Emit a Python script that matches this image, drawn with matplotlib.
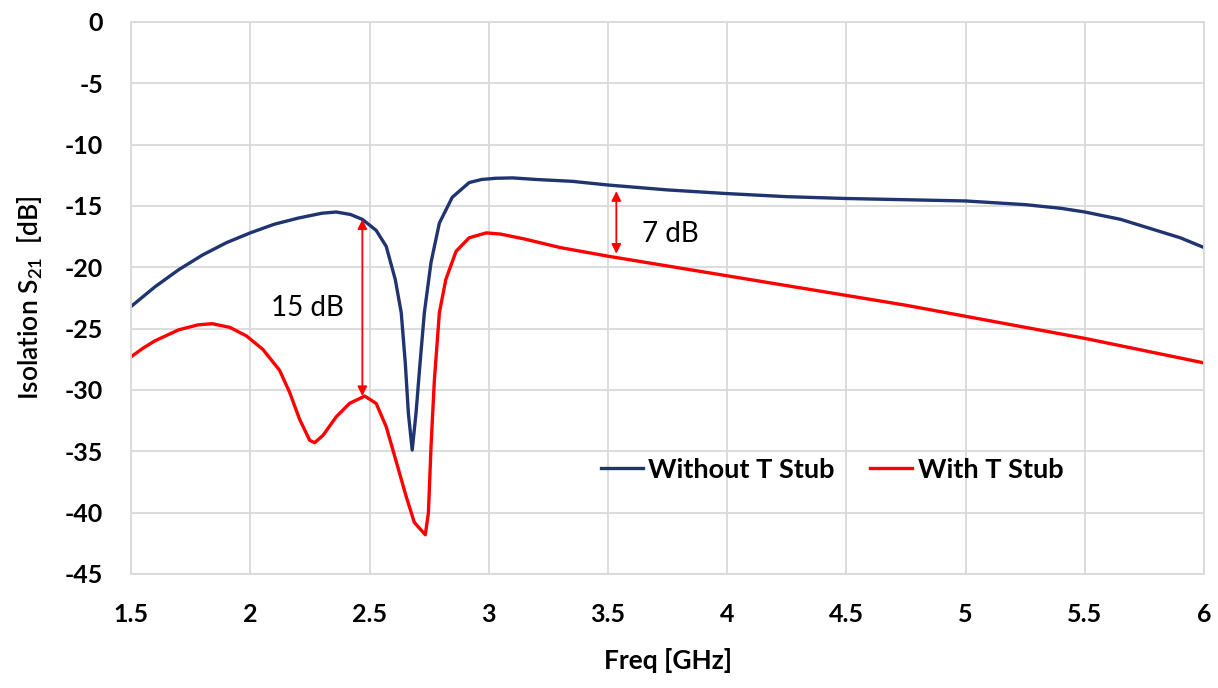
import numpy as np
import matplotlib
matplotlib.use('Agg')
import matplotlib.pyplot as plt

plt.rcParams['font.family'] = ['Lato', 'DejaVu Sans']
plt.rcParams['axes.unicode_minus'] = False

# Without T Stub
freq_wo = [1.5, 1.6, 1.7, 1.8, 1.9, 2.0, 2.1, 2.2, 2.3, 2.36, 2.42, 2.47, 2.528, 2.57,
           2.608, 2.633, 2.65, 2.663, 2.679, 2.695, 2.712, 2.73, 2.758, 2.793, 2.847,
           2.918, 2.97, 3.03, 3.1, 3.2, 3.35, 3.5, 3.75, 4.0, 4.25, 4.5, 4.75, 5.0,
           5.25, 5.4, 5.5, 5.65, 5.8, 5.9, 6.0]
s21_wo = [-23.2, -21.6, -20.2, -19.0, -18.0, -17.2, -16.5, -16.0, -15.6, -15.5, -15.7,
          -16.1, -17.0, -18.3, -21.0, -23.7, -27.8, -31.9, -34.9, -31.9, -27.8, -23.7,
          -19.6, -16.4, -14.3, -13.1, -12.85, -12.75, -12.72, -12.85, -13.0, -13.3,
          -13.7, -14.0, -14.25, -14.4, -14.5, -14.6, -14.9, -15.2, -15.5, -16.1,
          -17.0, -17.6, -18.4]

# With T Stub
freq_w = [1.5, 1.55, 1.6, 1.7, 1.78, 1.84, 1.914, 1.984, 2.053, 2.123, 2.165, 2.207,
          2.249, 2.27, 2.305, 2.36, 2.416, 2.48, 2.528, 2.57, 2.61, 2.654, 2.688,
          2.734, 2.747, 2.758, 2.772, 2.793, 2.82, 2.863, 2.918, 2.99, 3.05, 3.15,
          3.3, 3.5, 3.75, 4.0, 4.25, 4.5, 4.75, 5.0, 5.25, 5.5, 5.75, 6.0]
s21_w = [-27.3, -26.6, -26.0, -25.1, -24.7, -24.6, -24.9, -25.6, -26.7, -28.4, -30.2,
         -32.4, -34.1, -34.3, -33.7, -32.2, -31.1, -30.5, -31.1, -33.0, -35.7, -38.7,
         -40.8, -41.8, -40.0, -34.6, -29.2, -23.7, -21.0, -18.7, -17.6, -17.2, -17.3,
         -17.7, -18.4, -19.1, -19.9, -20.7, -21.5, -22.3, -23.1, -24.0, -24.9, -25.8,
         -26.8, -27.8]

x_ticks = [1.5, 2, 2.5, 3, 3.5, 4, 4.5, 5, 5.5, 6]
x_labels = ['1.5', '2', '2.5', '3', '3.5', '4', '4.5', '5', '5.5', '6']
y_ticks = list(range(0, -50, -5))

fig = plt.figure(figsize=(12.18, 6.88), dpi=100)
ax = fig.add_axes([0.1076, 0.1657, 0.881, 0.8026])

ax.plot(freq_wo, s21_wo, color='#1f3470', lw=2.4, label='Without T Stub')
ax.plot(freq_w, s21_w, color='#ff0000', lw=2.4, label='With T Stub')

ax.set_xlim(1.5, 6)
ax.set_ylim(-45, 0)
ax.set_xticks(x_ticks)
ax.set_xticklabels(x_labels, fontsize=18, fontweight='bold')
ax.set_yticks(y_ticks)
ax.set_yticklabels([str(v) for v in y_ticks], fontsize=18, fontweight='bold')
ax.grid(True, color='#d9d9d9', lw=1.3)
ax.set_axisbelow(True)
for sp in ax.spines.values():
    sp.set_color('#d9d9d9')
    sp.set_linewidth(1.3)
ax.tick_params(axis='x', length=0, pad=21)
ax.tick_params(axis='y', length=0, pad=20)

ax.set_xlabel('Freq [GHz]', fontsize=19, fontweight='bold', labelpad=16)
ax.set_ylabel(r'Isolation S$\mathregular{_{21}}$  [dB]', fontsize=19, fontweight='semibold', labelpad=14)

# difference arrows
arrow = dict(arrowstyle='<|-|>', color='#ff0000', lw=1.3, mutation_scale=14, shrinkA=0, shrinkB=0)
ax.annotate('', xy=(2.47, -16.1), xytext=(2.47, -30.5), arrowprops=arrow)
ax.annotate('', xy=(3.535, -13.8), xytext=(3.535, -18.9), arrowprops=arrow)
ax.text(2.24, -23.3, '15 dB', fontsize=20, ha='center', va='center')
ax.text(3.76, -17.3, '7 dB', fontsize=20, ha='center', va='center')

leg = ax.legend(loc='center', bbox_to_anchor=(4.44, -36.5), bbox_transform=ax.transData,
                ncol=2, frameon=False, prop={'size': 19.5, 'weight': 'bold'},
                handlelength=1.55, columnspacing=1.3, handletextpad=0.2)

fig.savefig('out.png', dpi=100)
